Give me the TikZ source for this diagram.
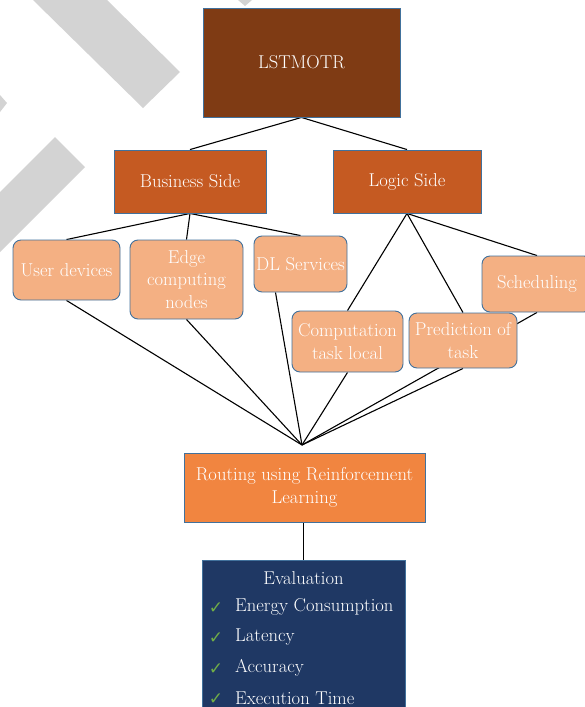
\documentclass[tikz,border=0pt]{standalone}
\usepackage{fontspec}
\newfontfamily\symfont{DejaVu Sans}
\definecolor{dbrown}{RGB}{127,59,20}
\definecolor{morange}{RGB}{197,90,34}
\definecolor{lpeach}{RGB}{244,176,131}
\definecolor{rorange}{RGB}{241,133,64}
\definecolor{navy}{RGB}{31,56,100}
\definecolor{bborder}{RGB}{65,113,156}
\definecolor{wgrey}{RGB}{211,211,211}
\definecolor{cgreen}{RGB}{112,173,71}
\pgfdeclarelayer{bg}
\pgfsetlayers{bg,main}
\tikzset{
  box/.style={draw=bborder, line width=0.9pt, text=white, align=center, inner sep=2pt,
    font=\fontsize{18.6}{22.5}\selectfont},
  sqbox/.style={box},
  rbox/.style={box, fill=lpeach, rounded corners=8pt},
  conn/.style={draw=black, line width=1.1pt},
  item/.style={text=white, anchor=west, inner sep=0pt, font=\fontsize{18.6}{20}\selectfont},
  chk/.style={text=cgreen, inner sep=0pt, font=\symfont\fontsize{17}{18}\selectfont}
}
\begin{document}
\begin{tikzpicture}[x=1pt,y=-1pt]
\useasboundingbox (0,0) rectangle (584,707);
% watermark
\begin{pgfonlayer}{bg}
\fill[wgrey] (33,0) -- (107,0) -- (180,72) -- (143,108) -- cycle;
\fill[wgrey] (55,137) -- (85,167) -- (0,252) -- (0,192) -- cycle;
\fill[wgrey] (0,95) -- (7,103) -- (0,112) -- cycle;
\fill[wgrey] (238,0) -- (252,0) -- (245,6) -- cycle;
\end{pgfonlayer}
% nodes
\node[sqbox, fill=dbrown, minimum width=197pt, minimum height=109pt] (lstm) at (301.5,62.5) {LSTMOTR};
\node[sqbox, fill=morange, minimum width=152pt, minimum height=63pt] (bus) at (190,181.5) {Business Side};
\node[sqbox, fill=morange, minimum width=148pt, minimum height=63pt] (logic) at (407,181.5) {Logic Side};
\node[rbox, minimum width=107pt, minimum height=60pt] (user) at (66.5,270) {User devices};
\node[rbox, minimum width=113pt, minimum height=79pt] (edge) at (186.5,279.5) {Edge\\computing\\nodes};
\node[rbox, minimum width=93pt, minimum height=56pt, inner sep=0pt] (dl) at (300.5,264) {DL Services};
\node[rbox, minimum width=110pt, minimum height=56pt] (sched) at (537,284) {Scheduling};
\node[rbox, minimum width=111pt, minimum height=61pt, inner sep=0pt] (comp) at (347.5,341.5) {Computation\\task local};
\node[rbox, minimum width=108pt, minimum height=55pt, inner sep=0pt] (pred) at (463,340.5) {Prediction of\\task};
\node[sqbox, fill=rorange, minimum width=241pt, minimum height=69pt] (route) at (304.5,487.5) {Routing using Reinforcement\\Learning};
\node[draw=bborder, line width=0.9pt, fill=navy, minimum width=203pt, minimum height=160pt, anchor=north, inner sep=0pt] (eval) at (303.5,560) {};
\node[text=white, inner sep=0pt, font=\fontsize{18.6}{20}\selectfont] (evt) at (303.5,578) {Evaluation};
\node[chk] (c1) at (216,608) {✓};
\node[item] (i1) at (235,607) {Energy Consumption};
\node[chk] (c2) at (216,638) {✓};
\node[item] (i2) at (235,637) {Latency};
\node[chk] (c3) at (216,669) {✓};
\node[item] (i3) at (235,668) {Accuracy};
\node[chk] (c4) at (216,699) {✓};
\node[item] (i4) at (235,698) {Execution Time};
\coordinate (conv) at (302,445);
% connectors
\begin{pgfonlayer}{bg}
\draw[conn] (lstm.south) -- (bus.north);
\draw[conn] (lstm.south) -- (logic.north);
\draw[conn] (bus.south) -- (user.north);
\draw[conn] (bus.south) -- (edge.north);
\draw[conn] (bus.south) -- (dl.north);
\draw[conn] (logic.south) -- (comp.north);
\draw[conn] (logic.south) -- (pred.north);
\draw[conn] (logic.south) -- (sched.north);
\draw[conn] (user.south) -- (conv);
\draw[conn] (edge.south) -- (conv);
\draw[conn] ([xshift=-25pt]dl.south) -- (conv);
\draw[conn] (comp.south) -- (conv);
\draw[conn] (pred.south) -- (conv);
\draw[conn] (sched.south) -- (conv);
\draw[conn] (eval.north) -- (eval.north |- route.south);
\end{pgfonlayer}
\end{tikzpicture}
\end{document}
